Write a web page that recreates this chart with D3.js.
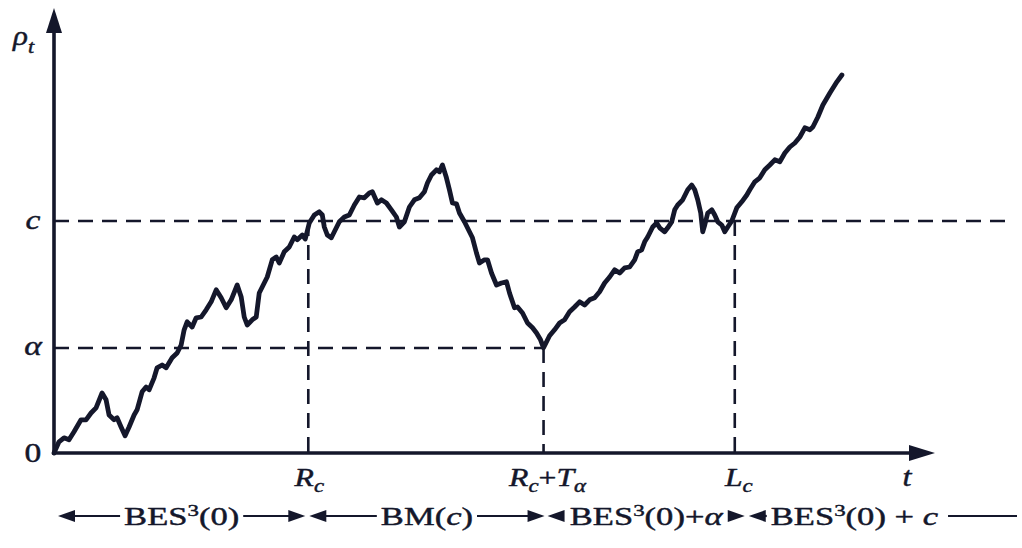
<!DOCTYPE html>
<html><head><meta charset="utf-8">
<script src="https://cdn.jsdelivr.net/npm/d3@7"></script>
<style>html,body{margin:0;padding:0;background:#fff;} svg{display:block;} text{white-space:pre;}</style>
</head><body><svg id="chart" width="1022" height="548"></svg>
<script>
// ---- data (t, rho) ----
const pathPoints = [[0,0],[0.5,0.28],[1.0,0.38],[1.5,0.33],[2.0,0.53],[2.7,0.83],[3.2,0.83],[3.7,1.0],[4.2,1.13],[4.8,1.5],[5.2,1.33],[5.5,0.95],[6.0,0.83],[6.3,0.88],[6.7,0.65],[7.1,0.43],[7.5,0.65],[8.0,0.95],[8.3,1.08],[8.8,1.53],[9.2,1.65],[9.5,1.58],[10.0,1.88],[10.3,2.13],[10.8,2.2],[11.2,2.13],[11.8,2.38],[12.3,2.5],[12.7,2.7],[13.0,3.08],[13.3,3.28],[13.8,3.15],[14.2,3.38],[14.7,3.4],[15.2,3.58],[15.7,3.78],[16.2,4.08],[16.7,3.88],[17.2,3.63],[17.7,3.83],[18.3,4.2],[18.7,3.9],[19.0,3.4],[19.3,3.2],[19.8,3.33],[20.2,3.4],[20.5,4.0],[21.0,4.25],[21.3,4.4],[21.8,4.83],[22.2,4.9],[22.5,4.75],[23.0,5.03],[23.5,5.15],[24.0,5.4],[24.3,5.33],[24.8,5.45],[25.1,5.35],[25.5,5.75],[26.0,5.95],[26.5,6.03],[26.8,5.95],[27.0,5.65],[27.3,5.45],[27.7,5.38],[28.0,5.53],[28.5,5.78],[29.0,5.9],[29.5,5.95],[30.0,6.2],[30.5,6.4],[31.0,6.38],[31.5,6.5],[31.8,6.53],[32.3,6.25],[32.7,6.33],[33.2,6.25],[33.7,6.08],[34.2,5.9],[34.5,5.65],[35.0,5.78],[35.5,6.15],[36.0,6.33],[36.5,6.38],[37.0,6.53],[37.3,6.75],[37.7,6.95],[38.2,7.08],[38.5,7.03],[38.8,7.2],[39.2,6.88],[39.5,6.58],[39.8,6.25],[40.2,6.23],[40.5,6.0],[41.0,5.78],[41.5,5.53],[41.8,5.38],[42.2,5.0],[42.5,4.75],[43.0,4.83],[43.3,4.83],[43.7,4.5],[44.2,4.2],[44.7,4.25],[45.2,4.28],[45.5,4.0],[46.0,3.63],[46.3,3.65],[46.8,3.5],[47.3,3.25],[47.8,3.13],[48.2,3.0],[48.6,2.83],[48.9,2.63],[49.5,2.93],[50.0,3.08],[50.5,3.25],[51.0,3.33],[51.5,3.53],[52.0,3.65],[52.5,3.78],[53.0,3.7],[53.5,3.83],[54.0,3.88],[54.5,4.03],[55.0,4.25],[55.5,4.4],[56.0,4.58],[56.5,4.5],[57.0,4.63],[57.5,4.65],[58.0,4.83],[58.3,5.03],[58.7,5.08],[59.0,5.28],[59.3,5.4],[59.8,5.65],[60.2,5.75],[60.5,5.63],[61.0,5.53],[61.3,5.63],[61.7,5.78],[62.0,6.08],[62.3,6.2],[62.8,6.33],[63.3,6.58],[63.7,6.7],[64.0,6.58],[64.3,6.33],[64.6,6.0],[64.8,5.53],[65.0,5.7],[65.3,6.0],[65.7,6.08],[66.0,5.95],[66.3,5.78],[66.7,5.7],[67.0,5.53],[67.3,5.65],[67.7,5.8],[68.2,6.13],[68.7,6.28],[69.2,6.45],[69.5,6.58],[70.0,6.78],[70.5,6.88],[71.0,7.08],[71.5,7.2],[72.0,7.33],[72.5,7.28],[73.0,7.5],[73.5,7.65],[74.0,7.75],[74.5,7.9],[75.0,8.13],[75.5,8.08],[75.8,8.15],[76.3,8.4],[76.8,8.7],[77.5,9.0],[78.2,9.28],[78.7,9.45]];

const levelNames  = ['0', '*α*', '*c*'];
const levelValues = [0, 2.625, 5.8];
const levelLineEnd = [null, 48.9, 95];      // t where each dashed level line ends

const timeNames   = ['*R*_{c}', '*R*_{c}+*T*_{α}', '*L*_{c}'];
const timeValues  = [25.4, 48.9, 68.0];
const timeFrom    = [5.8, 2.625, 5.8];      // rho level where each vertical dashed line starts

const phaseNames  = ['BES^{3}(0)', 'BM(*c*)', 'BES^{3}(0)+*α*', 'BES^{3}(0) + *c*'];
const axisNames   = ['*ρ*_{t}', '*t*'];
const tMax = 88, rhoMax = 11.125;

// ---- drawing ----
const INK = '#14172b';
const FONT = '"Liberation Serif", "Times New Roman", serif';
const svg = d3.select('#chart');
svg.append('rect').attr('width',1022).attr('height',548).attr('fill','#fff');

const x = d3.scaleLinear().domain([0, tMax]).range([54, 935]);
const y = d3.scaleLinear().domain([0, rhoMax]).range([453, 8]);

function parse(s){
  return s.split(/(_\{[^}]*\}|\^\{[^}]*\}|\*[^*]*\*)/g).filter(p=>p).map(p=>{
    if (p.startsWith('_{')) return {text:p.slice(2,-1), mode:'sub'};
    if (p.startsWith('^{')) return {text:p.slice(2,-1), mode:'sup'};
    if (p.startsWith('*')) return {text:p.slice(1,-1), mode:'it'};
    return {text:p, mode:'n'};
  });
}
function richText(s, x0, y0, size, anchor, sx, subShift){
  const g = svg.append('g').attr('transform', `translate(${x0},${y0}) scale(${sx},1)`);
  const t = g.append('text').attr('text-anchor', anchor).attr('font-family', FONT)
     .attr('font-size', size).attr('fill', INK)
     .attr('stroke', INK).attr('stroke-width', 0.45).attr('stroke-linejoin','round');
  let off = 0;
  parse(s).forEach(p=>{
    let target = 0, fs = size, style = 'normal';
    if (p.mode==='sub'){ target = size*(subShift||0.28); fs = size*0.72; style='italic'; }
    else if (p.mode==='sup'){ target = -size*0.36; fs = size*0.66; }
    else if (p.mode==='it'){ style = 'italic'; }
    t.append('tspan').text(p.text).attr('font-size', fs).attr('font-style', style).attr('dy', target-off);
    off = target;
  });
  return t.node().getComputedTextLength()*sx;
}

// dashed level lines
levelValues.forEach((v,i)=>{
  if (levelLineEnd[i]===null) return;
  svg.append('line').attr('x1', x(0)).attr('x2', x(levelLineEnd[i]))
    .attr('y1', y(v)).attr('y2', y(v))
    .attr('stroke', INK).attr('stroke-width', 2.6).attr('stroke-dasharray', '15,9');
});
// vertical dashed lines
timeValues.forEach((t,i)=>{
  svg.append('line').attr('x1', x(t)).attr('x2', x(t))
    .attr('y1', y(timeFrom[i])).attr('y2', y(0))
    .attr('stroke', INK).attr('stroke-width', 2.6).attr('stroke-dasharray', '15,9');
});

// axes
svg.append('line').attr('x1', x(0)).attr('x2', x(0)).attr('y1', y(0)+2).attr('y2', y(rhoMax)+20)
  .attr('stroke', INK).attr('stroke-width', 3.6);
svg.append('path').attr('d', `M${x(0)},${y(rhoMax)} L${x(0)-8},${y(rhoMax)+25} L${x(0)+8},${y(rhoMax)+25} Z`).attr('fill', INK);
svg.append('line').attr('x1', x(0)-1).attr('x2', x(tMax)-20).attr('y1', y(0)).attr('y2', y(0))
  .attr('stroke', INK).attr('stroke-width', 3.6);
svg.append('path').attr('d', `M${x(tMax)},${y(0)} L${x(tMax)-26},${y(0)-8} L${x(tMax)-26},${y(0)+8} Z`).attr('fill', INK);

// the process path
svg.append('path').datum(pathPoints)
  .attr('d', d3.line().x(d=>x(d[0])).y(d=>y(d[1])))
  .attr('fill','none').attr('stroke', INK).attr('stroke-width', 4.8)
  .attr('stroke-linejoin','round').attr('stroke-linecap','round');

// labels on the rho axis
const levelBaseline = [9, 7, 8];
levelValues.forEach((v,i)=> richText(levelNames[i], 33, y(v)+levelBaseline[i], 28, 'middle', 1.2));
richText(axisNames[0], 13, 45, 27, 'start', 1.15);
// labels on the t axis
timeValues.forEach((t,i)=> richText(timeNames[i], x(t)+(i===0?1:4), 486, 26, 'middle', 1.22, 0.22));
richText(axisNames[1], 907, 486, 27, 'middle', 1.2);

// phase row
const rowY = 516, baseY = 525;
function head(xTip, dir){
  svg.append('path').attr('d', `M${xTip},${rowY} L${xTip-dir*17},${rowY-6} L${xTip-dir*17},${rowY+6} Z`).attr('fill', INK);
}
function hline(a,b){
  svg.append('line').attr('x1',a).attr('x2',b).attr('y1',rowY).attr('y2',rowY).attr('stroke',INK).attr('stroke-width',2.2);
}
const tips = [[x(0)+4, x(timeValues[0])-3], [x(timeValues[0])+1, x(timeValues[1])+1],
              [x(timeValues[1])+4, x(timeValues[2])+10], [x(timeValues[2])+14, 1017]];
phaseNames.forEach((name,i)=>{
  const [l, r] = tips[i];
  if (i < 3){
    const cx = (l+r)/2;
    const w = richText(name, cx, baseY, 26, 'middle', 1.33);
    head(l, -1); head(r, 1);
    if (i < 2){ hline(l+10, cx-w/2-4); hline(cx+w/2+4, r-10); }
  } else {
    const sx0 = l + 22;
    const w = richText(name, sx0, baseY, 26, 'start', 1.33);
    head(l, -1); hline(l+10, l+18);
    hline(sx0+w+10, r);
  }
});
</script></body></html>
